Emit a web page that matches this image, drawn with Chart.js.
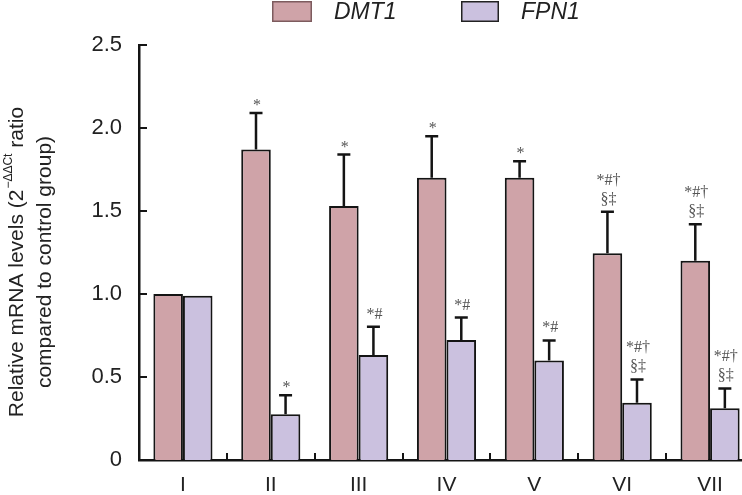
<!DOCTYPE html>
<html><head><meta charset="utf-8">
<script src="https://cdn.jsdelivr.net/npm/chart.js@4/dist/chart.umd.min.js"></script>
<style>
html,body{margin:0;padding:0;background:#fff;overflow:hidden;width:742px;height:495px}
#wrap{width:754px;height:495px}
</style>
</head><body><div id="wrap"><canvas id="c" width="754" height="495"></canvas></div>
<script>
const categories = ["I","II","III","IV","V","VI","VII"];
const seriesNames = ["DMT1","FPN1"];
const dmt1Mean = [1.00, 1.87, 1.53, 1.70, 1.70, 1.245, 1.20];
const dmt1SD   = [0, 0.22, 0.31, 0.25, 0.10, 0.25, 0.22];
const fpn1Mean = [0.99, 0.275, 0.632, 0.723, 0.60, 0.345, 0.311];
const fpn1SD   = [0, 0.115, 0.17, 0.135, 0.12, 0.14, 0.12];
const dmt1Marks = [[], ["*"], ["*"], ["*"], ["*"], ["*#†","§‡"], ["*#†","§‡"]];
const fpn1Marks = [[], ["*"], ["*#"], ["*#"], ["*#"], ["*#†","§‡"], ["*#†","§‡"]];
const yTickLabels = ["0","0.5","1.0","1.5","2.0","2.5"];
const yTitle1 = ["Relative mRNA levels (2", "\u2212\u0394\u0394Ct", " ratio"];
const yTitle2 = "compared to control group)";

const SANS = '"Liberation Sans", Arial, Helvetica, sans-serif';
const SERIF = '"Liberation Serif", "Times New Roman", serif';

const errorBars = {
  id: 'errorBars',
  afterDatasetsDraw(chart) {
    const ctx = chart.ctx, ys = chart.scales.y;
    chart.data.datasets.forEach((ds, di) => {
      const meta = chart.getDatasetMeta(di);
      meta.data.forEach((bar, i) => {
        const sd = ds.sd[i];
        const top = ys.getPixelForValue(ds.data[i] + sd);
        ctx.save();
        if (sd > 0) {
          ctx.strokeStyle = '#141414'; ctx.lineWidth = 2.5;
          ctx.beginPath();
          ctx.moveTo(bar.x, bar.y); ctx.lineTo(bar.x, top);
          ctx.moveTo(bar.x - 6.5, top); ctx.lineTo(bar.x + 6.5, top);
          ctx.stroke();
        }
        const marks = ds.marks[i];
        ctx.fillStyle = '#555'; ctx.font = '16px ' + SERIF;
        ctx.textAlign = 'center'; ctx.textBaseline = 'alphabetic';
        let base = top - ((marks.length === 1 && marks[0] === '*') ? 3 : 8);
        for (let k = marks.length - 1; k >= 0; k--) {
          ctx.fillText(marks[k], bar.x + 1, base);
          base -= 19;
        }
        ctx.restore();
      });
    });
  }
};

const innerTicks = {
  id: 'innerTicks',
  afterDraw(chart) {
    const ctx = chart.ctx, xs = chart.scales.x, ys = chart.scales.y, a = chart.chartArea;
    ctx.save(); ctx.strokeStyle = '#141414'; ctx.lineWidth = 2;
    ys.ticks.forEach((t, i) => {
      const p = Math.round(ys.getPixelForTick(i));
      ctx.beginPath(); ctx.moveTo(a.left, p); ctx.lineTo(a.left + 8, p); ctx.stroke();
    });
    for (let i = 1; i < categories.length; i++) {
      const p = Math.round((xs.getPixelForValue(i - 1) + xs.getPixelForValue(i)) / 2);
      ctx.beginPath(); ctx.moveTo(p, a.bottom); ctx.lineTo(p, a.bottom - 7); ctx.stroke();
    }
    ctx.restore();
  }
};

const titleAndLegend = {
  id: 'titleAndLegend',
  afterDraw(chart) {
    const ctx = chart.ctx;
    ctx.save();
    ctx.fillStyle = '#222';
    ctx.translate(0, 262);
    ctx.rotate(-Math.PI / 2);
    ctx.textBaseline = 'middle';
    const big = '21px ' + SANS, small = '12px ' + SANS;
    ctx.font = big; const w1 = ctx.measureText(yTitle1[0]).width, w3 = ctx.measureText(yTitle1[2]).width;
    ctx.font = small; const w2 = ctx.measureText(yTitle1[1]).width;
    let x = -(w1 + w2 + w3 + 1) / 2;
    ctx.textAlign = 'left';
    ctx.font = big; ctx.fillText(yTitle1[0], x, 17); x += w1;
    ctx.font = small; ctx.fillText(yTitle1[1], x + 1, 9); x += w2 + 1;
    ctx.font = big; ctx.fillText(yTitle1[2], x, 17);
    ctx.textAlign = 'center';
    ctx.fillText(yTitle2, 0, 45);
    ctx.restore();

    ctx.save();
    const items = [
      {ds: chart.data.datasets[0], bx: 272, bw: 40, tx: 334, border: '#7d5b5e'},
      {ds: chart.data.datasets[1], bx: 461, bw: 38, tx: 521, border: '#222'}
    ];
    items.forEach(it => {
      ctx.fillStyle = it.ds.backgroundColor;
      ctx.fillRect(it.bx, 1, it.bw, 21);
      ctx.strokeStyle = it.border; ctx.lineWidth = 1.5;
      ctx.strokeRect(it.bx + 0.75, 1.75, it.bw - 1.5, 19.5);
      ctx.fillStyle = '#222'; ctx.font = 'italic 23px ' + SANS;
      ctx.textAlign = 'left'; ctx.textBaseline = 'middle';
      ctx.fillText(it.ds.label, it.tx, 13);
    });
    ctx.restore();
  }
};

new Chart(document.getElementById('c'), {
  type: 'bar',
  data: {
    labels: categories,
    datasets: [
      {label: seriesNames[0], data: dmt1Mean, sd: dmt1SD, marks: dmt1Marks,
       backgroundColor: '#cfa3a8', borderColor: '#141414',
       borderWidth: 2, borderSkipped: 'start',
       categoryPercentage: 0.673, barPercentage: 1.0},
      {label: seriesNames[1], data: fpn1Mean, sd: fpn1SD, marks: fpn1Marks,
       backgroundColor: '#cbc1df', borderColor: '#141414',
       borderWidth: 2, borderSkipped: 'start',
       categoryPercentage: 0.673, barPercentage: 1.0}
    ]
  },
  options: {
    responsive: false, animation: false, devicePixelRatio: 1,
    layout: {padding: {top: 45, left: 0, right: 0, bottom: 0}},
    plugins: {legend: {display: false}, tooltip: {enabled: false}},
    scales: {
      x: {
        grid: {display: false, drawTicks: false},
        border: {display: true, color: '#141414', width: 2.5},
        ticks: {font: {family: SANS, size: 21}, color: '#222', padding: 13},
        afterFit(s) { s.height = 35; }
      },
      y: {
        min: 0, max: 2.5,
        grid: {display: false, drawTicks: false},
        border: {display: true, color: '#141414', width: 2.5},
        ticks: {stepSize: 0.5, padding: 17, font: {family: SANS, size: 22}, color: '#222',
                callback: (v, i) => yTickLabels[i]},
        afterFit(s) { s.width = 139; }
      }
    }
  },
  plugins: [errorBars, innerTicks, titleAndLegend]
});
</script>
</body></html>
